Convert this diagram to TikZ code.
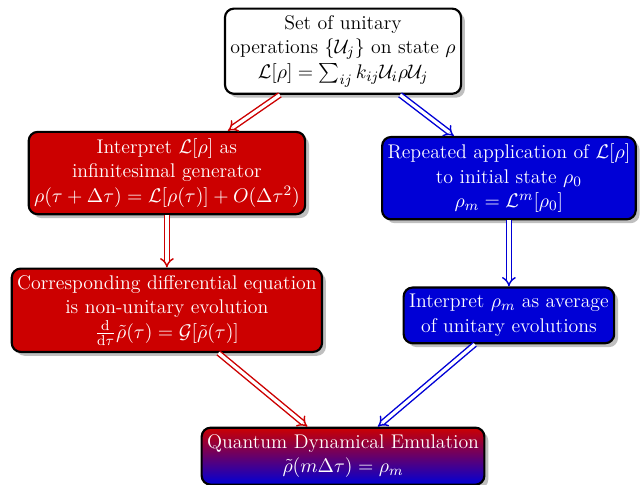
\documentclass[tikz,border=0pt]{standalone}
\usepackage{amsmath}
\usetikzlibrary{shadows,arrows.meta}
\definecolor{boxred}{RGB}{204,0,0}
\definecolor{boxblue}{RGB}{0,0,214}
\begin{document}
\begin{tikzpicture}[node distance=2.4cm,thick,
    main node/.style={rectangle,rounded corners=5pt,draw=black,very thick,align=center,drop shadow,inner xsep=3pt,inner ysep=3.8pt,font=\fontsize{11}{13.6}\selectfont},
    red node/.style={main node,fill=boxred,text=white},
    blue node/.style={main node,fill=boxblue,text=white},
    red arrow/.style={draw=boxred,double=white,double distance=1.8pt,thick,-{Implies[scale=1.15]}},
    blue arrow/.style={draw=boxblue,double=white,double distance=1.8pt,thick,-{Implies[scale=1.15]}}]
    \useasboundingbox (-6.7,1.0) rectangle (5.82,-8.47);
    \node[main node,fill=white] (top) {Set of unitary\\ operations $\{\mathcal{U}_j\}$ on state $\rho$\\ $\mathcal{L}[\rho]=\sum_{ij}k_{ij}\mathcal{U}_i\rho\mathcal{U}_j$};
    \node[red node] (interp) [below of=top,node distance=2.38cm,xshift=-3.44cm] {Interpret $\mathcal{L}[\rho]$ as\\ infinitesimal generator\\ $\rho(\tau+\Delta\tau)=\mathcal{L}[\rho(\tau)]+O(\Delta\tau^2)$};
    \node[blue node] (repeat) [below of=top,node distance=2.48cm,xshift=3.24cm] {Repeated application of $\mathcal{L}[\rho]$\\ to initial state $\rho_0$\\ $\rho_m=\mathcal{L}^m[\rho_0]$};
    \node[red node] (diffeq) [below of=interp,node distance=2.68cm] {Corresponding differential equation\\ is non-unitary evolution\\ $\frac{\mathrm{d}}{\mathrm{d}\tau}\tilde{\rho}(\tau)=\mathcal{G}[\tilde{\rho}(\tau)]$};
    \node[blue node] (average) [below of=repeat,node distance=2.68cm] {Interpret $\rho_m$ as average\\ of unitary evolutions};
    \node[main node,top color=boxred,bottom color=boxblue,text=white] (qde) [below of=top,node distance=7.91cm] {Quantum Dynamical Emulation\\ $\tilde{\rho}(m\Delta\tau)=\rho_m$};

    \draw[red arrow] (top) -- (interp);
    \draw[red arrow] (interp) -- (diffeq);
    \draw[red arrow] (diffeq) -- (qde);
    \draw[blue arrow] (top) -- (repeat);
    \draw[blue arrow] (repeat) -- (average);
    \draw[blue arrow] (average) -- (qde);
\end{tikzpicture}
\end{document}
